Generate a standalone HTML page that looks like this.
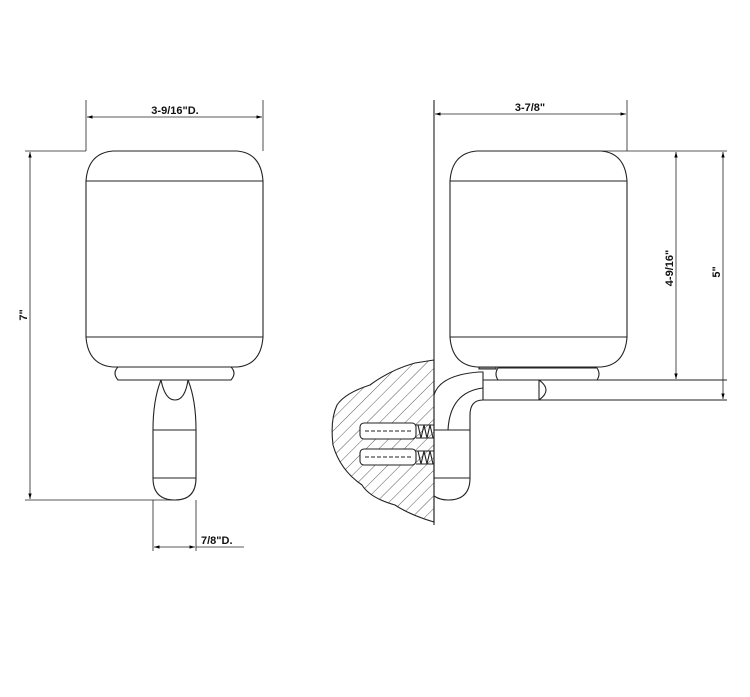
<!DOCTYPE html>
<html><head><style>body{margin:0;background:#fff}svg{display:block}</style></head><body>
<svg width="750" height="697" viewBox="0 0 750 697" xmlns="http://www.w3.org/2000/svg" font-family="Liberation Sans, sans-serif" font-weight="bold" font-size="11">
<defs>
<pattern id="h" width="9" height="9" patternUnits="userSpaceOnUse" patternTransform="rotate(45)">
<line x1="0" y1="0" x2="0" y2="9" stroke="#333" stroke-width="0.8"/></pattern>
<marker id="a" viewBox="0 0 10 10" refX="10" refY="5" markerWidth="7" markerHeight="7" orient="auto-start-reverse"><path d="M0,2 L10,5 L0,8z" fill="#000"/></marker>
</defs>
<g fill="none" stroke="#222" stroke-width="1.1">
<!-- LEFT VIEW -->
<path d="M86,181 Q88,153 113,151 L237,151 Q261,153 263,181 L263,337 Q261,365 237,367 L113,367 Q88,365 86,337 Z"/>
<line x1="86" y1="181" x2="263" y2="181"/>
<line x1="86" y1="337" x2="263" y2="337"/>
<path d="M118,367 L231,367 Q237,373 231,380 L118,380 Q112,373 118,367Z"/>
<path d="M161,380 Q153,400 153,430 L153,478 Q153,500 175,500 Q196,500 196,478 L196,430 Q196,400 188,380"/>
<path d="M161,380 Q165,400 175,400 Q185,400 188,380"/>
<line x1="153" y1="430" x2="196" y2="430"/>
<line x1="153" y1="478" x2="196" y2="478"/>
<!-- dims left -->
<line x1="86" y1="100" x2="86" y2="151" stroke-width="0.8"/>
<line x1="263" y1="100" x2="263" y2="151" stroke-width="0.8"/>
<line x1="87" y1="117" x2="262" y2="117" stroke-width="0.8" marker-start="url(#a)" marker-end="url(#a)"/>
<line x1="25" y1="151" x2="86" y2="151" stroke-width="0.8"/>
<line x1="25" y1="500" x2="175" y2="500" stroke-width="0.8"/>
<line x1="30" y1="152" x2="30" y2="499" stroke-width="0.8" marker-start="url(#a)" marker-end="url(#a)"/>
<line x1="153" y1="500" x2="153" y2="551" stroke-width="0.8"/>
<line x1="196" y1="500" x2="196" y2="551" stroke-width="0.8"/>
<line x1="154" y1="547" x2="195" y2="547" stroke-width="0.8" marker-start="url(#a)" marker-end="url(#a)"/>
<line x1="196" y1="547" x2="244" y2="547" stroke-width="0.8"/>
<!-- RIGHT VIEW -->
<path d="M337,405 Q345,393 370,385 Q390,370 415,363 L434,360 L434,522 Q410,515 395,505 Q370,498 362,485 Q340,470 333,445 Q330,420 337,405Z" fill="url(#h)" stroke="#222"/>
<line x1="434" y1="100" x2="434" y2="525"/>
<path d="M450,181 Q452,153 477,151 L601,151 Q625,153 627,181 L627,337 Q625,365 601,367 L477,367 Q452,365 450,337 Z"/>
<line x1="450" y1="181" x2="627" y2="181"/>
<line x1="450" y1="337" x2="627" y2="337"/>
<path d="M498,368 L597,368 Q601,374 597,380 L498,380 Q494,374 498,368Z"/>
<path d="M479,367 L496,367 L496,369 L479,369Z" fill="#999"/>
<path d="M434,395 Q440,375 479,372 L483,372 L483,400"/>
<line x1="483" y1="380" x2="727" y2="380"/>
<line x1="483" y1="400" x2="727" y2="400"/>
<path d="M448,430 Q450,392 483,388"/>
<path d="M483,400 Q470,400 470,415 L470,478 Q470,500 448,500 Q440,500 434,496"/>
<line x1="434" y1="430" x2="470" y2="430"/>
<line x1="434" y1="478" x2="470" y2="478"/>
<line x1="539" y1="380" x2="539" y2="400"/>
<path d="M539,380 Q553,390 539,400"/>
<!-- anchors -->
<rect x="360" y="423" width="56" height="16" rx="4" fill="#fff"/>
<rect x="360" y="449" width="56" height="16" rx="4" fill="#fff"/>
<path d="M365,431 L412,431 M365,457 L412,457" stroke-dasharray="4 2"/>
<path d="M416,425 L434,425 M416,438 L434,438 M416,451 L434,451 M416,464 L434,464"/>
<path d="M418,425 l3,13 l3,-13 l3,13 l3,-13 l3,13 M418,451 l3,13 l3,-13 l3,13 l3,-13 l3,13"/>
<!-- dims right -->
<line x1="434" y1="100" x2="434" y2="151" stroke-width="0.8"/>
<line x1="627" y1="100" x2="627" y2="151" stroke-width="0.8"/>
<line x1="435" y1="114" x2="626" y2="114" stroke-width="0.8" marker-start="url(#a)" marker-end="url(#a)"/>
<line x1="600" y1="151" x2="727" y2="151" stroke-width="0.8"/>
<line x1="676" y1="152" x2="676" y2="379" stroke-width="0.8" marker-start="url(#a)" marker-end="url(#a)"/>
<line x1="723" y1="152" x2="723" y2="399" stroke-width="0.8" marker-start="url(#a)" marker-end="url(#a)"/>
</g>
<g fill="#111">
<text x="175" y="114" text-anchor="middle">3-9/16"D.</text>
<text x="530" y="111" text-anchor="middle">3-7/8"</text>
<text x="201" y="544">7/8"D.</text>
<text transform="translate(27,315) rotate(-90)" text-anchor="middle">7"</text>
<text transform="translate(673,268) rotate(-90)" text-anchor="middle">4-9/16"</text>
<text transform="translate(720,272) rotate(-90)" text-anchor="middle">5"</text>
</g>
</svg>
</body></html>
